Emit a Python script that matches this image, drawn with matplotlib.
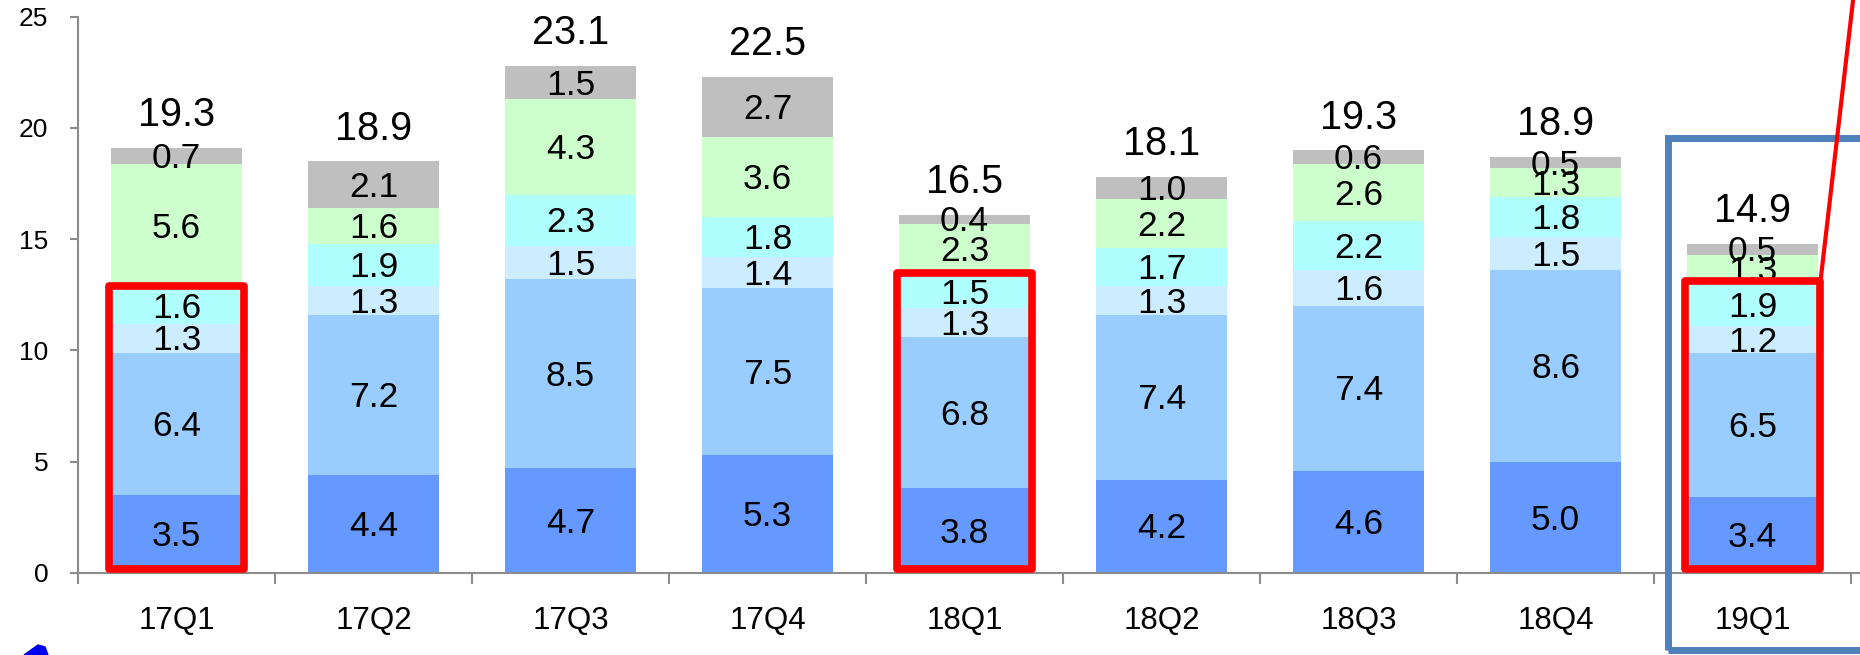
import matplotlib
matplotlib.use("Agg")
import matplotlib.pyplot as plt
import numpy as np
from matplotlib.patches import Rectangle, Polygon
from matplotlib.lines import Line2D

plt.rcParams['font.family'] = ['Liberation Sans', 'DejaVu Sans']

quarters = ["17Q1", "17Q2", "17Q3", "17Q4", "18Q1", "18Q2", "18Q3", "18Q4", "19Q1"]
seg1 = [3.5, 4.4, 4.7, 5.3, 3.8, 4.2, 4.6, 5.0, 3.4]
seg2 = [6.4, 7.2, 8.5, 7.5, 6.8, 7.4, 7.4, 8.6, 6.5]
seg3 = [1.3, 1.3, 1.5, 1.4, 1.3, 1.3, 1.6, 1.5, 1.2]
seg4 = [1.6, 1.9, 2.3, 1.8, 1.5, 1.7, 2.2, 1.8, 1.9]
seg5 = [5.6, 1.6, 4.3, 3.6, 2.3, 2.2, 2.6, 1.3, 1.3]
seg6 = [0.7, 2.1, 1.5, 2.7, 0.4, 1.0, 0.6, 0.5, 0.5]
totals = [19.3, 18.9, 23.1, 22.5, 16.5, 18.1, 19.3, 18.9, 14.9]
highlight = ["17Q1", "18Q1", "19Q1"]  # red boxes around the first 4 segments

colors = ["#6699FF", "#99CCFF", "#CCECFF", "#AFFFFF", "#CCFFCC", "#BFBFBF"]
segments = [seg1, seg2, seg3, seg4, seg5, seg6]

W, H = 1860, 655
fig = plt.figure(figsize=(W / 100, H / 100), dpi=100)
left = 78 / W
ax = fig.add_axes([left, 1 - 573 / H, 1 - left, (573 - 16.7) / H])

x = np.arange(len(quarters))
bw = 0.665
bottom = np.zeros(len(quarters))
for vals, c in zip(segments, colors):
    vals = np.array(vals)
    ax.bar(x, vals, bw, bottom=bottom, color=c, edgecolor="none", zorder=2)
    for xi, b, v in zip(x, bottom, vals):
        ax.text(xi, b + v / 2 - 0.12, f"{v:.1f}", ha="center", va="center",
                fontsize=25.5, color="black", zorder=5)
    bottom = bottom + vals

for xi, top, t in zip(x, bottom, totals):
    ax.annotate(f"{t:.1f}", (xi, top), xytext=(0, 15.5), textcoords="offset points",
                ha="center", va="baseline", fontsize=28.5, color="black")

# red highlight boxes
lower4 = np.array(seg1) + np.array(seg2) + np.array(seg3) + np.array(seg4)
for q in highlight:
    i = quarters.index(q)
    ax.add_patch(Rectangle((i - 0.345, 0.18), 0.69, lower4[i] - 0.08,
                           fill=False, edgecolor="#FF0000", lw=5.5,
                           joinstyle="round", zorder=6, clip_on=False))

# blue box around last quarter (runs off the right edge)
y_bot = -(650 - 573) / 22.3
ax.add_patch(Rectangle((7.57, y_bot), 3, 19.55 - y_bot, fill=False,
                       edgecolor="#4F81BD", lw=5, zorder=7, clip_on=False))

ax.set_ylim(0, 25)
ax.set_xlim(-0.5, -0.5 + (W - 78) / 197)
ax.set_yticks([0, 5, 10, 15, 20, 25])
ax.set_xticks(x)
ax.set_xticklabels(quarters)
ax.set_xticks(np.arange(-0.5, len(quarters), 1.0), minor=True)

for s in ["top", "right"]:
    ax.spines[s].set_visible(False)
for s in ["left", "bottom"]:
    ax.spines[s].set_color("#8C8C8C")
    ax.spines[s].set_linewidth(1.5)

ax.tick_params(axis="y", direction="out", length=5.5, width=1.5, color="#8C8C8C",
               labelsize=19, pad=16)
ax.tick_params(axis="x", which="major", length=0, labelsize=22.5, pad=24)
ax.tick_params(axis="x", which="minor", direction="out", length=8, width=1.5,
               color="#8C8C8C")

# red pointer line leaving the 19Q1 box
i = quarters.index("19Q1")
p0 = ax.transData.transform((i + 0.345, lower4[i] + 0.1))
p1 = (p0[0] + 27 * 2, p0[1] + 233 * 2)
fig.add_artist(Line2D([p0[0] / W, p1[0] / W], [p0[1] / H, p1[1] / H],
                      transform=fig.transFigure, color="#FF0000", lw=3))

# fragment of a blue arrow at the bottom-left edge
fig.add_artist(Polygon([(24 / W, 0), (38 / W, 10 / H), (45 / W, 8 / H), (48 / W, 0)],
                       closed=True, transform=fig.transFigure,
                       color="#0000EE"))

fig.savefig("out.png", dpi=100)
